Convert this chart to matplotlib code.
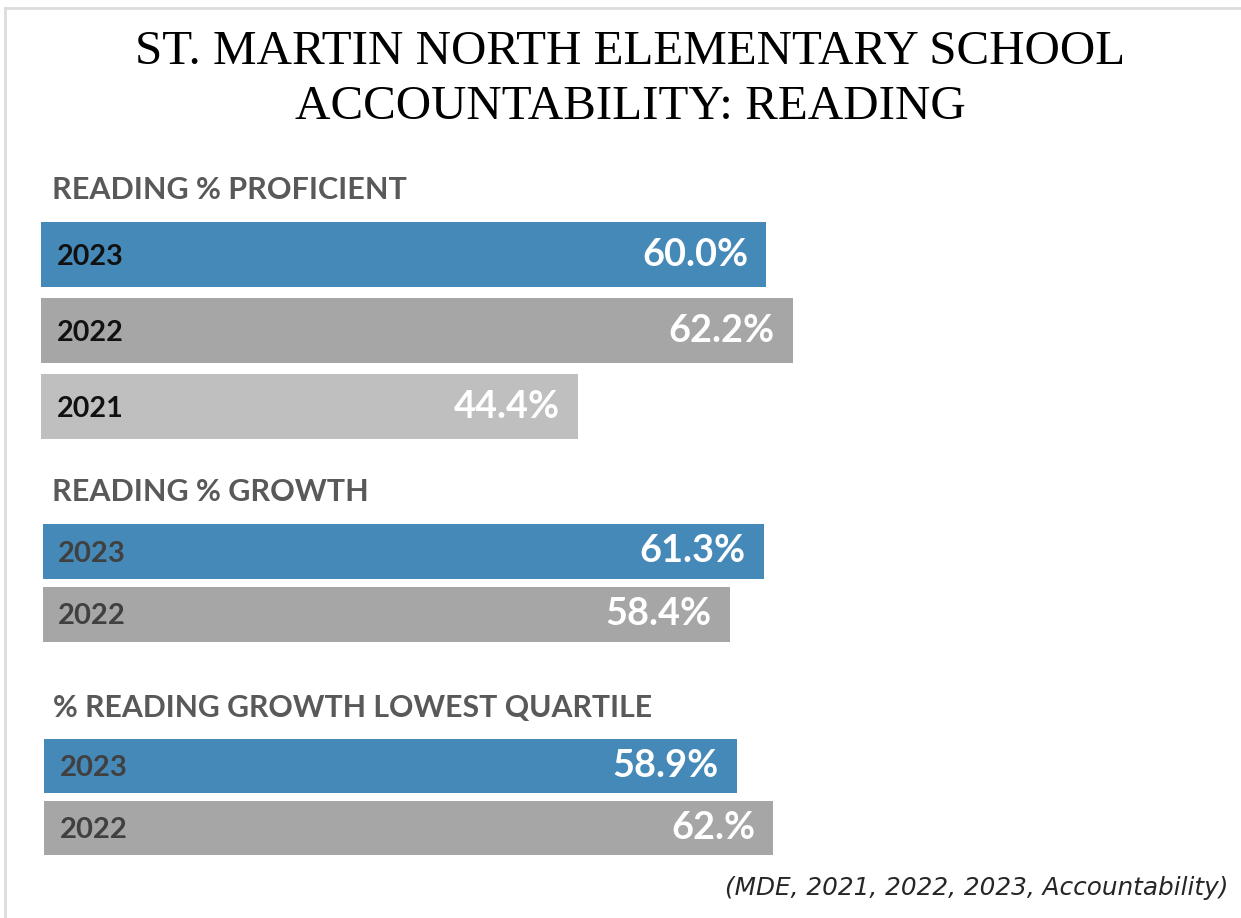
import matplotlib
matplotlib.use("Agg")
import matplotlib.pyplot as plt
from matplotlib.lines import Line2D

W, H = 1241, 918

title_lines = ["ST. MARTIN NORTH ELEMENTARY SCHOOL", "ACCOUNTABILITY: READING"]
source_note = "(MDE, 2021, 2022, 2023, Accountability)"

sec1_title = "READING % PROFICIENT"
sec1_years = ["2023", "2022", "2021"]
sec1_values = [60.0, 62.2, 44.4]
sec1_labels = ["60.0%", "62.2%", "44.4%"]

sec2_title = "READING % GROWTH"
sec2_years = ["2023", "2022"]
sec2_values = [61.3, 58.4]
sec2_labels = ["61.3%", "58.4%"]

sec3_title = "% READING GROWTH LOWEST QUARTILE"
sec3_years = ["2023", "2022"]
sec3_values = [58.9, 62.0]
sec3_labels = ["58.9%", "62.%"]

BLUE = "#4589b8"
GRAY = "#a6a6a6"
LGRAY = "#bfbfbf"

fig = plt.figure(figsize=(W / 100, H / 100), dpi=100)
fig.patch.set_facecolor("white")

def px_axes(x0, y_top, x1, y_bot):
    return fig.add_axes([x0 / W, 1 - y_bot / H, (x1 - x0) / W, (y_bot - y_top) / H])

# border (top and left only)
fig.add_artist(Line2D([5 / W, 5 / W], [1 - 8 / H, 0], color="#dcdcdc", lw=2))
fig.add_artist(Line2D([5 / W, 1], [1 - 8 / H, 1 - 8 / H], color="#dcdcdc", lw=2))

# title
fig.text(630 / W, 1 - 52 / H, title_lines[0], ha="center", va="center",
         fontsize=35.3, family="Liberation Serif", color="black")
fig.text(630 / W, 1 - 107 / H, title_lines[1], ha="center", va="center",
         fontsize=35.3, family="Liberation Serif", color="black")

def section(header, header_y, header_x, years, values, labels, colors,
            x0, pxper, y_top, spacing, height, year_x, year_color, year_fs, val_fs, hdr_fs):
    fig.text(header_x / W, 1 - header_y / H, header, ha="left", va="center",
             fontsize=hdr_fs, fontweight="bold", family="Lato", color="#595959")
    n = len(years)
    xmax = 80
    ax = px_axes(x0, y_top, x0 + pxper * xmax, y_top + spacing * n)
    pos = list(range(n))
    ax.barh(pos, values, height=height, color=colors, edgecolor="none")
    ax.set_xlim(0, xmax)
    ax.set_ylim(n - 0.5, -0.5)
    ax.axis("off")
    for p, v, lab, yr in zip(pos, values, labels, years):
        ax.annotate(lab, xy=(v, p), xytext=(-13, 0), textcoords="offset points",
                    ha="right", va="center", fontsize=val_fs, fontweight="bold",
                    family="Lato", color="white")
        ax.annotate(yr, xy=(0, p), xytext=((year_x - x0) * 0.72, -1.5), textcoords="offset points",
                    ha="left", va="center", fontsize=year_fs, fontweight="bold",
                    family="Lato", color=year_color)

section(sec1_title, 190, 52, sec1_years, sec1_values, sec1_labels, [BLUE, GRAY, LGRAY],
        41, 12.09, 216.5, 76, 0.855, 57, "#111111", 20.6, 27.3, 22)
section(sec2_title, 492, 52, sec2_years, sec2_values, sec2_labels, [BLUE, GRAY],
        43, 11.76, 520.25, 62.5, 0.88, 58, "#404040", 21, 27.3, 22)
section(sec3_title, 708, 53, sec3_years, sec3_values, sec3_labels, [BLUE, GRAY],
        44, 11.76, 735, 62, 0.88, 60, "#404040", 21, 27.3, 21.8)

fig.text(1228 / W, 1 - 888 / H, source_note, ha="right", va="center",
         fontsize=17.8, style="italic", family="DejaVu Sans", color="#262626")

fig.savefig("out.png", dpi=100, facecolor="white")
